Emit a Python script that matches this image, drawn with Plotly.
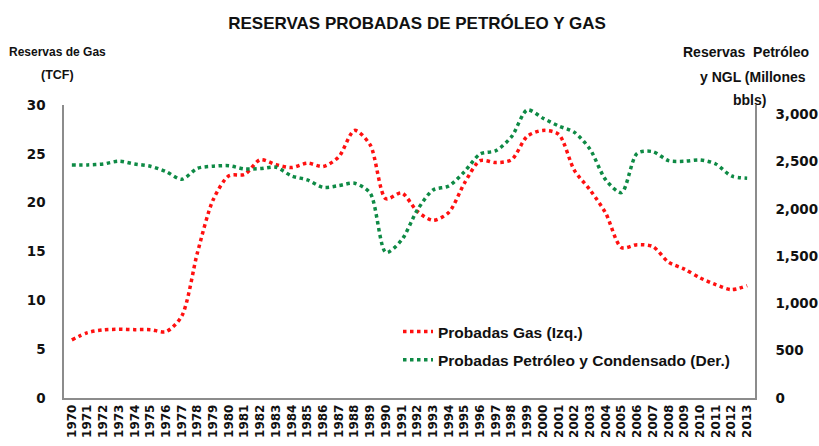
import plotly.graph_objects as go

years = [str(y) for y in range(1970, 2014)]

gas_tcf = [5.95, 6.7, 6.97, 7.04, 7.0, 7.0, 6.8, 8.4, 14.9, 20.3,
           22.75, 22.9, 24.4, 23.9, 23.6, 24.05, 23.7, 24.7, 27.4, 25.9,
           20.4, 21.0, 19.1, 18.2, 19.0, 22.0, 24.3, 24.1, 24.4, 26.8,
           27.4, 27.0, 23.3, 21.3, 18.9, 15.4, 15.7, 15.5, 13.9, 13.2,
           12.3, 11.6, 11.1, 11.5]

oil_mmbbl = [2466, 2466, 2476, 2505, 2476, 2452, 2395, 2314, 2430, 2452,
             2458, 2423, 2427, 2441, 2349, 2307, 2229, 2247, 2272, 2166,
             1540, 1672, 1989, 2201, 2243, 2395, 2582, 2617, 2765, 3048,
             2960, 2878, 2811, 2631, 2307, 2173, 2589, 2606, 2511, 2505,
             2519, 2476, 2349, 2325]

left_ticks = [0, 5, 10, 15, 20, 25, 30]
right_ticks = [0, 500, 1000, 1500, 2000, 2500, 3000]
right_ticktext = ["0", "500", "1,000", "1,500", "2,000", "2,500", "3,000"]

TXT = "Liberation Sans, Arial, sans-serif"
TICK = "DejaVu Sans, Verdana, sans-serif"

W, H = 819, 446
PL, PT, PR, PB = 64, 105, 64, 48
PW, PH = W - PL - PR, H - PT - PB

fig = go.Figure()
fig.add_trace(go.Scatter(
    x=years, y=gas_tcf, name="<b>Probadas Gas (Izq.)</b>", mode="lines",
    legendgroup="g1",
    line=dict(color="#FF1010", width=3.5, dash="dot", shape="spline", smoothing=0.8),
    yaxis="y"))
fig.add_trace(go.Scatter(
    x=years, y=oil_mmbbl, name="<b>Probadas Petróleo y Condensado (Der.)</b>", mode="lines",
    legendgroup="g2",
    line=dict(color="#0E8A45", width=3.5, dash="dot", shape="spline", smoothing=0.8),
    yaxis="y2"))

def px_y(py):  # window pixel -> paper y
    return (PT + PH - py) / PH

def px_x(px):  # window pixel -> paper x
    return (px - PL) / PW

fig.update_layout(
    width=W, height=H,
    margin=dict(l=PL, r=PR, t=PT, b=PB, autoexpand=False),
    paper_bgcolor="white", plot_bgcolor="white",
    title=dict(text="<b>RESERVAS PROBADAS DE PETRÓLEO Y GAS</b>",
               x=417 / W, xanchor="center", y=1 - 23 / H, yanchor="middle",
               font=dict(family=TXT, size=17, color="#111")),
    xaxis=dict(type="category", tickangle=-90, showgrid=False, automargin=False,
               showline=True, linecolor="#8c8c8c", linewidth=1.5,
               ticks="", tickfont=dict(family=TICK, size=12, color="#111", weight="bold"),
               range=[-0.5, 43.5], mirror=False),
    yaxis=dict(range=[0, 30], tickvals=left_ticks, showgrid=False, zeroline=False,
               showline=True, linecolor="#8c8c8c", linewidth=1.5, ticks="",
               ticklabelstandoff=14, automargin=False,
               tickfont=dict(family=TICK, size=13.5, color="#111", weight="bold")),
    yaxis2=dict(range=[0, 3100], tickvals=right_ticks, ticktext=right_ticktext,
                overlaying="y", side="right", showgrid=False, zeroline=False,
                showline=True, linecolor="#8c8c8c", linewidth=1.5, ticks="",
                ticklabelstandoff=16, automargin=False,
                tickfont=dict(family=TICK, size=13.5, color="#111", weight="bold")),
    legend=dict(x=px_x(398), y=px_y(315), xanchor="left", yanchor="top",
                bgcolor="rgba(0,0,0,0)", tracegroupgap=5,
                traceorder="grouped",
                font=dict(family=TXT, size=15.5, color="#111")),
    showlegend=True,
)

titles = [
    ("<b>Reservas de Gas</b>", 57, 52, 12),
    ("<b>(TCF)</b>", 57, 75, 12.5),
    ("<b>Reservas\u00a0\u00a0Petróleo</b>", 746, 52, 14),
    ("<b>y NGL (Millones</b>", 753, 77, 14),
    ("<b>bbls)</b>", 749, 100, 14),
]
for txt, cx, cy, fs in titles:
    fig.add_annotation(text=txt, xref="paper", yref="paper",
                       x=px_x(cx), y=px_y(cy), xanchor="center", yanchor="middle",
                       showarrow=False, font=dict(family=TXT, size=fs, color="#111"))

fig.write_html("out.html",
               config={"displayModeBar": False},
               post_script="document.body.style.margin='0';"
                           "document.body.style.overflow='hidden';")
